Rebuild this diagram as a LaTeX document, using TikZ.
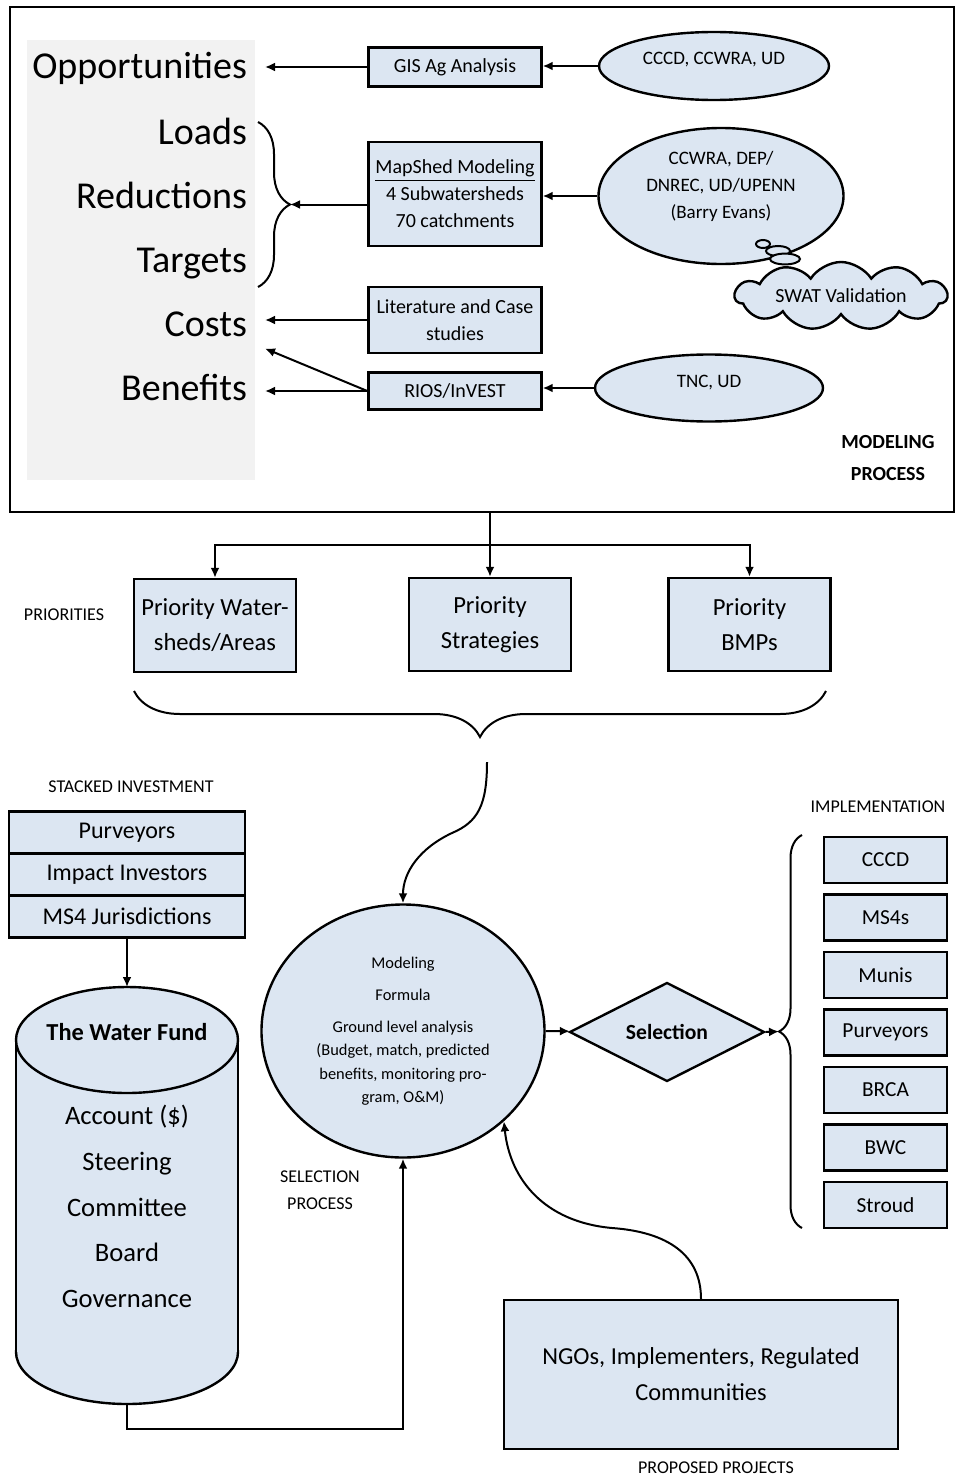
\documentclass[tikz,border=0pt]{standalone}
\usepackage{fontspec}
\setmainfont{Carlito}
\usetikzlibrary{arrows.meta,shapes.geometric,shapes.symbols,decorations.pathreplacing}
\definecolor{boxblue}{RGB}{220,230,242}
\definecolor{panelgray}{RGB}{242,242,242}

\begin{document}
\begin{tikzpicture}[x=0.5pt,y=-0.5pt,
    box/.style={draw,line width=1.2pt,fill=boxblue,align=center,inner sep=1pt},
    toolbox/.style={box,minimum width=86.5pt,font=\fontsize{10}{13.5}\selectfont},
    oval/.style={ellipse,draw,line width=1.2pt,fill=boxblue,inner sep=0pt},
    ovaltext/.style={align=center,font=\fontsize{9.5}{13.5}\selectfont},
    big/.style={anchor=east,inner sep=0pt,outer sep=9pt,text height=13pt,text depth=4pt,font=\fontsize{19}{23}\selectfont},
    tag/.style={align=center,font=\fontsize{9}{13.5}\selectfont},
    prio/.style={box,minimum width=81pt,minimum height=46.5pt,font=\fontsize{12.3}{17.5}\selectfont},
    stackbox/.style={box,minimum width=118pt,minimum height=21pt,font=\fontsize{12}{14}\selectfont},
    implbox/.style={box,minimum width=61.5pt,minimum height=23pt,font=\fontsize{10.7}{13}\selectfont},
    arr/.style={-{Latex[length=5pt,width=4.5pt]},line width=1pt},
    brc/.style={decorate,decoration={brace,amplitude=#1},line width=1pt}]
	\useasboundingbox (0,0) rectangle (956,1477);

	% modeling process
	\begin{scope}
		\fill[panelgray] (27,40) rectangle (255,480);
		\node[draw,line width=1.2pt,minimum width=472pt,minimum height=252.5pt,inner sep=0pt] (frame) at (482,259.5) {};

		\node[big] (opp) at (265,70) {Opportunities};
		\node[big] (loads) at (265,135) {Loads};
		\node[big] (red) at (265,199) {Reductions};
		\node[big] (targ) at (265,263) {Targets};
		\node[big] (costs) at (265,327) {Costs};
		\node[big] (ben) at (265,391) {Benefits};

		\node[toolbox,minimum height=19.5pt] (gis) at (455,67) {GIS Ag Analysis};
		\node[toolbox,minimum height=52pt] (mapshed) at (455,194) {\underline{MapShed Modeling}\\4 Subwatersheds\\70 catchments};
		\node[toolbox,minimum height=33pt] (lit) at (455,320) {Literature and Case\\studies};
		\node[toolbox,minimum height=18.5pt] (rios) at (455,391) {RIOS/InVEST};

		\node[oval,minimum width=115pt,minimum height=34pt] (cccd) at (714,66) {};
		\node[ovaltext] (cccdt) at (714,60) {CCCD, CCWRA, UD};
		\node[oval,minimum width=122.5pt,minimum height=68pt] (ccwra) at (721,196) {};
		\node[ovaltext] (ccwrat) at (721,186) {CCWRA, DEP/\\DNREC, UD/UPENN\\(Barry Evans)};
		\node[oval,minimum width=114pt,minimum height=33.5pt] (tnc) at (709,388) {};
		\node[ovaltext] (tnct) at (709,383) {TNC, UD};

		\draw[line width=1pt,fill=boxblue] (763,244) ellipse [x radius=3.5pt,y radius=2pt];
		\draw[line width=1pt,fill=boxblue] (778,251) ellipse [x radius=6pt,y radius=2.5pt];
		\draw[line width=1pt,fill=boxblue] (785,259) ellipse [x radius=7.5pt,y radius=2.7pt];
		\node[cloud,cloud puffs=11,cloud puff arc=115,cloud ignores aspect,draw,line width=1.2pt,fill=boxblue,
		      minimum width=106pt,minimum height=34pt,inner sep=0pt,font=\fontsize{10}{12}\selectfont] (swat) at (841,296) {SWAT Validation};

		\draw[brc=16pt] (258,122) -- (258,287);
		\coordinate (lrt) at (290,204.5);

		\draw[arr] (gis.west) to (gis.west -| opp.east);
		\draw[arr] (cccd.west) to (cccd.west -| gis.east);
		\draw[arr] (ccwra.west) to (ccwra.west -| mapshed.east);
		\draw[arr] (mapshed.west |- lrt) to (lrt);
		\draw[arr] (lit.west) to (lit.west -| costs.east);
		\draw[arr] (rios.west) to (rios.west -| ben.east);
		\draw[arr] (rios.west) to (costs.-20);
		\draw[arr] (tnc.west) to (tnc.west -| rios.east);

		\node[align=center,font=\bfseries\fontsize{10}{16}\selectfont] (mp) at (888,458) {MODELING\\PROCESS};
	\end{scope}

	% priorities
	\node[prio] (p1) at (215,625.5) {Priority Water-\\sheds/Areas};
	\node[prio] (p2) at (490,624.5) {Priority\\Strategies};
	\node[prio] (p3) at (749.5,624.5) {Priority\\BMPs};
	\node[tag] (prl) at (64,615) {PRIORITIES};
	\coordinate (split) at (490,545);
	\draw[line width=1pt] (frame.south -| p2) to (split);
	\draw[arr] (split) to (p2);
	\draw[arr] (split) -| (p1);
	\draw[arr] (split) -| (p3);
	\draw[brc=23pt] (826,691) -- (134,691);

	% stacked investment and the fund
	\node[tag] (sil) at (131,787) {STACKED INVESTMENT};
	\node[stackbox] (s1) at (127,832.5) {Purveyors};
	\node[stackbox] (s2) at (127,874.5) {Impact Investors};
	\node[stackbox] (s3) at (127,916.5) {MS4 Jurisdictions};

	\draw[line width=1.2pt,fill=boxblue] (127,1352) ellipse [x radius=55.5pt,y radius=26pt];
	\fill[boxblue] (16,1040) rectangle (238,1352);
	\draw[line width=1.2pt] (16,1040) -- (16,1352) (238,1040) -- (238,1352);
	\draw[line width=1.2pt,fill=boxblue] (127,1040) ellipse [x radius=55.5pt,y radius=26.5pt];
	\coordinate (fundtop) at (127,987);
	\coordinate (fundbot) at (127,1404);
	\node[font=\bfseries\fontsize{12.2}{15}\selectfont] (fund) at (127,1032) {The Water Fund};
	\node[align=center,font=\fontsize{13.3}{22.9}\selectfont] (fundtxt) at (127,1206.5) {Account (\$)\\Steering\\Committee\\Board\\Governance};
	\draw[arr] (s3) to (fundtop);

	% selection
	\node[ellipse,draw,line width=1.2pt,fill=boxblue,minimum width=141.5pt,minimum height=126.5pt,inner sep=0pt,
	      align=center,font=\fontsize{8.2}{11.75}\selectfont] (sel) at (403,1031)
	      {Modeling\\[4.25pt]Formula\\[4.25pt]Ground level analysis\\(Budget, match, predicted\\benefits, monitoring pro-\\gram, O\&M)};
	\node[tag] (spl) at (320,1190) {SELECTION\\PROCESS};
	\node[diamond,aspect=2,draw,line width=1.2pt,fill=boxblue,minimum width=97.5pt,minimum height=49.5pt,inner sep=0pt,
	      font=\bfseries\fontsize{10.8}{13}\selectfont] (pick) at (667,1032) {Selection};

	\coordinate (flow) at (487,762);
	\draw[arr] (flow) .. controls (487,805) and (478,822) .. (452,833) .. controls (420,848) and (403,872) .. (sel.north);
	\draw[arr] (fundbot) -- ++(0,25) -| (sel.south);
	\draw[arr] (sel.east) to (pick);

	% implementation
	\node[tag] (iml) at (878,807) {IMPLEMENTATION};
	\foreach \lbl [count=\i] in {CCCD,MS4s,Munis,Purveyors,BRCA,BWC,Stroud}
		\node[implbox] (imp\i) at (885.5,802.5+57.5*\i) {\lbl};
	\draw[brc=11.5pt] (802,1228) -- (802,835);
	\coordinate (imt) at (779,1031.5);
	\draw[arr] (pick.east) to (imt);

	% proposed projects
	\node[box,minimum width=197pt,minimum height=74.5pt,font=\fontsize{12.2}{18}\selectfont] (ngo) at (701,1374.5) {NGOs, Implementers, Regulated\\Communities};
	\node[tag] (ppl) at (716,1468) {PROPOSED PROJECTS};
	\draw[arr] (ngo.north) .. controls (701,1255) and (668,1232) .. (612,1228) .. controls (545,1222) and (510,1180) .. (sel.south east);
\end{tikzpicture}
\end{document}
